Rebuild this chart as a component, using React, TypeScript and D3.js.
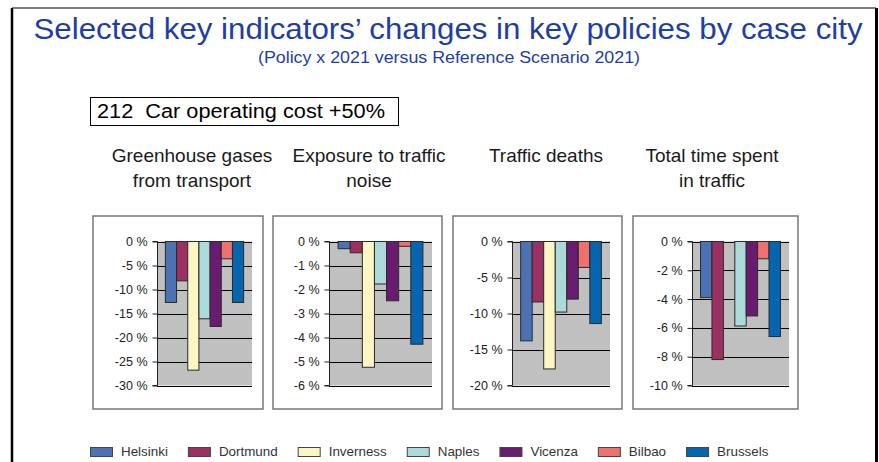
import React, { useEffect, useRef } from "react";
import * as d3 from "d3";

const cities = ["Helsinki", "Dortmund", "Inverness", "Naples", "Vicenza", "Bilbao", "Brussels"];
const cityColors = ["#4c72b3", "#9b3163", "#fbf6c4", "#acd9d9", "#691b70", "#ee716f", "#0565ae"];

const panelTitles = [
  ["Greenhouse gases", "from transport"],
  ["Exposure to traffic", "noise"],
  ["Traffic deaths"],
  ["Total time spent", "in traffic"],
];
const ghgValues = [-12.7, -8.2, -26.8, -16.1, -17.7, -3.6, -12.7];
const noiseValues = [-0.3, -0.47, -5.24, -1.77, -2.47, -0.2, -4.28];
const deathValues = [-13.8, -8.4, -17.7, -9.8, -8.0, -3.6, -11.4];
const timeValues = [-3.9, -8.2, 0, -5.87, -5.17, -1.2, -6.6];
const panelValues = [ghgValues, noiseValues, deathValues, timeValues];
const ticks1 = [0, -5, -10, -15, -20, -25, -30];
const ticks2 = [0, -1, -2, -3, -4, -5, -6];
const ticks3 = [0, -5, -10, -15, -20];
const ticks4 = [0, -2, -4, -6, -8, -10];
const panelTicks = [ticks1, ticks2, ticks3, ticks4];

const titleText = "Selected key indicators\u2019 changes in key policies by case city";
const subtitleText = "(Policy x 2021 versus Reference Scenario 2021)";
const policyText = "212  Car operating cost +50%";

// layout
const frames = [
  { x0: 93, x1: 263, gx0: 157, gx1: 252, cx: 192 },
  { x0: 273, x1: 442, gx0: 329, gx1: 432, cx: 369 },
  { x0: 453, x1: 622, gx0: 512, gx1: 610, cx: 546 },
  { x0: 633, x1: 798, gx0: 692, gx1: 789, cx: 712 },
];
const FONT = "Liberation Sans, Arial, Helvetica, sans-serif";

export default function App() {
  const ref = useRef<SVGSVGElement>(null);
  useEffect(() => {
    const svg = d3.select(ref.current);
    svg.selectAll("*").remove();
    svg.attr("font-family", FONT);

    // outer frame
    svg.append("path").attr("d", "M12,462 V8 H876 V462").attr("fill", "none").attr("stroke", "#000").attr("stroke-width", 1);
    svg.append("line").attr("x1", 12).attr("x2", 12).attr("y1", 8).attr("y2", 462).attr("stroke", "#000").attr("stroke-width", 2.5);
    svg.append("line").attr("x1", 876.5).attr("x2", 876.5).attr("y1", 8).attr("y2", 462).attr("stroke", "#000").attr("stroke-width", 3);

    svg.append("text").attr("x", 448).attr("y", 39).attr("text-anchor", "middle")
      .attr("font-size", 29.5).attr("fill", "#1d3ea6")
      .attr("textLength", 829).attr("lengthAdjust", "spacingAndGlyphs").text(titleText);
    svg.append("text").attr("x", 449).attr("y", 63).attr("text-anchor", "middle")
      .attr("font-size", 16).attr("fill", "#1d3ea6")
      .attr("textLength", 382).attr("lengthAdjust", "spacingAndGlyphs").text(subtitleText);

    svg.append("rect").attr("x", 90.5).attr("y", 97.5).attr("width", 308).attr("height", 28)
      .attr("fill", "#fff").attr("stroke", "#000").attr("stroke-width", 1);
    svg.append("text").attr("x", 97).attr("y", 118).attr("font-size", 20).attr("fill", "#000")
      .attr("textLength", 288).attr("lengthAdjust", "spacingAndGlyphs").attr("xml:space", "preserve").text(policyText);

    frames.forEach((f, i) => {
      const g = svg.append("g");
      const lines = panelTitles[i];
      lines.forEach((t, j) => {
        g.append("text").attr("x", f.cx).attr("y", 162 + j * 25).attr("text-anchor", "middle")
          .attr("font-size", 19).attr("fill", "#1a1a1a").text(t);
      });
      g.append("rect").attr("x", f.x0).attr("y", 216).attr("width", f.x1 - f.x0).attr("height", 193)
        .attr("fill", "#fff").attr("stroke", "#777").attr("stroke-width", 1.5);

      const tks = panelTicks[i];
      const y = d3.scaleLinear().domain([0, d3.min(tks) as number]).range([241.5, 385.5]);
      const x = d3.scaleBand<string>().domain(cities).range([f.gx0, f.gx1]).paddingInner(0).paddingOuter(0.75);

      g.append("rect").attr("x", f.gx0).attr("y", y.range()[0]).attr("width", f.gx1 - f.gx0)
        .attr("height", y.range()[1] - y.range()[0]).attr("fill", "#c0c0c0");
      g.selectAll("line.grid").data(tks).join("line").attr("class", "grid")
        .attr("x1", f.gx0).attr("x2", f.gx1).attr("y1", (d) => Math.round(y(d)) + 0.5).attr("y2", (d) => Math.round(y(d)) + 0.5)
        .attr("stroke", "#000").attr("stroke-width", 1);

      const vals = panelValues[i];
      g.selectAll("rect.bar").data(cities).join("rect").attr("class", "bar")
        .attr("x", (d) => x(d) as number).attr("width", x.bandwidth())
        .attr("y", y(0)).attr("height", (_d, k) => Math.max(0, y(vals[k]) - y(0)))
        .attr("fill", (_d, k) => cityColors[k]).attr("stroke", "#2a2a2a").attr("stroke-width", 1)
        .style("display", (_d, k) => (vals[k] === 0 ? "none" : null));

      const axis = d3.axisLeft(y).tickValues(tks).tickSize(5).tickPadding(5)
        .tickFormat((d) => `${String(d)} %`);
      const ag = g.append("g").attr("transform", `translate(${f.gx0 + 0.5},0)`).call(axis);
      ag.select(".domain").attr("stroke", "#222").attr("d", `M-5,${y.range()[0]}H0V${y.range()[1]}H-5`);
      ag.selectAll("line").attr("stroke", "#222");
      ag.selectAll("text").attr("font-size", 12.5).attr("font-family", FONT).attr("fill", "#222");
    });

    // legend
    const lg = svg.append("g");
    let lx = 90;
    cities.forEach((c, k) => {
      lg.append("rect").attr("x", lx + 0.5).attr("y", 447.5).attr("width", 22).attr("height", 9)
        .attr("fill", cityColors[k]).attr("stroke", "#444").attr("stroke-width", 1);
      const t = lg.append("text").attr("x", lx + 31).attr("y", 456).attr("font-size", 13.4)
        .attr("fill", "#333").text(c);
      const w = (t.node() as SVGTextElement).getComputedTextLength();
      lx = lx + 31 + w + 20;
    });
  }, []);
  return (
    <svg ref={ref} width={879} height={462} style={{ position: "absolute", left: 0, top: 0, background: "#fff" }} />
  );
}
